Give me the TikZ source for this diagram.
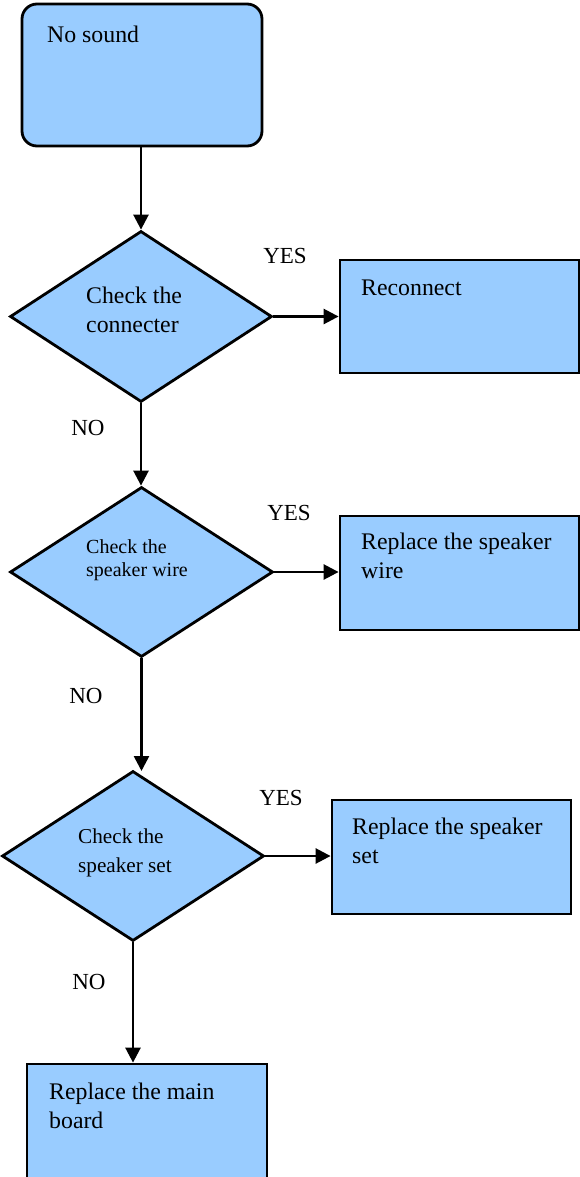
\documentclass[tikz,border=0pt]{standalone}
\usepackage{fontspec}
\setmainfont{Liberation Serif}
\usetikzlibrary{shapes.geometric,arrows.meta}
\definecolor{boxblue}{RGB}{153,204,255}
\tikzset{
  shapebox/.style={draw=black,fill=boxblue,line width=2.8pt,inner sep=0pt},
  decision/.style={shapebox,diamond,minimum width=262pt,minimum height=171pt},
  conn/.style={line width=2.6pt,-{Triangle[length=15pt,width=15pt]}},
  txt/.style={anchor=base west,inner sep=0pt,font=\fontsize{23.8}{29}\selectfont},
  smalltxt/.style={anchor=base west,inner sep=0pt,font=\fontsize{20}{23}\selectfont},
  midtxt/.style={anchor=base west,inner sep=0pt,font=\fontsize{21.2}{29}\selectfont},
  lbl/.style={inner sep=0pt,font=\fontsize{23}{28}\selectfont}
}
\begin{document}
\begin{tikzpicture}[x=1pt,y=-1pt]
\useasboundingbox (0,0) rectangle (580,1177);
\clip (0,0) rectangle (580,1177);
% start
\node[shapebox,rounded corners=15pt,minimum width=240pt,minimum height=142pt] (start) at (142,75) {};
\node[txt] (tstart) at (47,43) {No sound};
% decision 1
\node[decision] (d1) at (141,316.5) {};
\node[txt] (td1a) at (86,303) {Check the};
\node[txt] (td1b) at (86,332) {connecter};
\node[shapebox,minimum width=239pt,minimum height=113pt] (b1) at (459.5,316.5) {};
\node[txt] (tb1) at (361,295) {Reconnect};
\node[lbl] (yes1) at (285,256) {YES};
\node[lbl] (no1) at (88,428) {NO};
% decision 2
\node[decision,minimum width=263pt,minimum height=170pt] (d2) at (141.5,572) {};
\node[smalltxt] (td2a) at (86,553) {Check the};
\node[smalltxt] (td2b) at (86,576) {speaker wire};
\node[shapebox,minimum width=239pt,minimum height=114pt] (b2) at (459.5,573) {};
\node[txt] (tb2a) at (361,549) {Replace the speaker};
\node[txt] (tb2b) at (361,578) {wire};
\node[lbl] (yes2) at (289,513) {YES};
\node[lbl] (no2) at (86,696) {NO};
% decision 3
\node[decision,minimum height=170pt] (d3) at (133,856) {};
\node[midtxt] (td3a) at (78,843) {Check the};
\node[midtxt] (td3b) at (78,872) {speaker set};
\node[shapebox,minimum width=239pt,minimum height=114pt] (b3) at (451.5,857) {};
\node[txt] (tb3a) at (352,834) {Replace the speaker};
\node[txt] (tb3b) at (352,863) {set};
\node[lbl] (yes3) at (281,798) {YES};
\node[lbl] (no3) at (89,982) {NO};
% final
\node[shapebox,minimum width=240pt,minimum height=140pt] (b4) at (147,1134) {};
\node[txt] (tb4a) at (49,1099) {Replace the main};
\node[txt] (tb4b) at (49,1128) {board};
% connectors
\draw[conn] (start.south -| d1.north) -- (d1.north);
\draw[conn] (d1.east) -- (b1.west |- d1.east);
\draw[conn] (d1.south) -- (d2.north -| d1.south);
\draw[conn] (d2.east) -- (b2.west |- d2.east);
\coordinate (d3in) at (142,771);
\draw[conn] (d2.south) -- (d2.south |- d3in);
\draw[conn] (d3.east) -- (b3.west |- d3.east);
\draw[conn] (d3.south) -- (d3.south |- b4.north);
\end{tikzpicture}
\end{document}
